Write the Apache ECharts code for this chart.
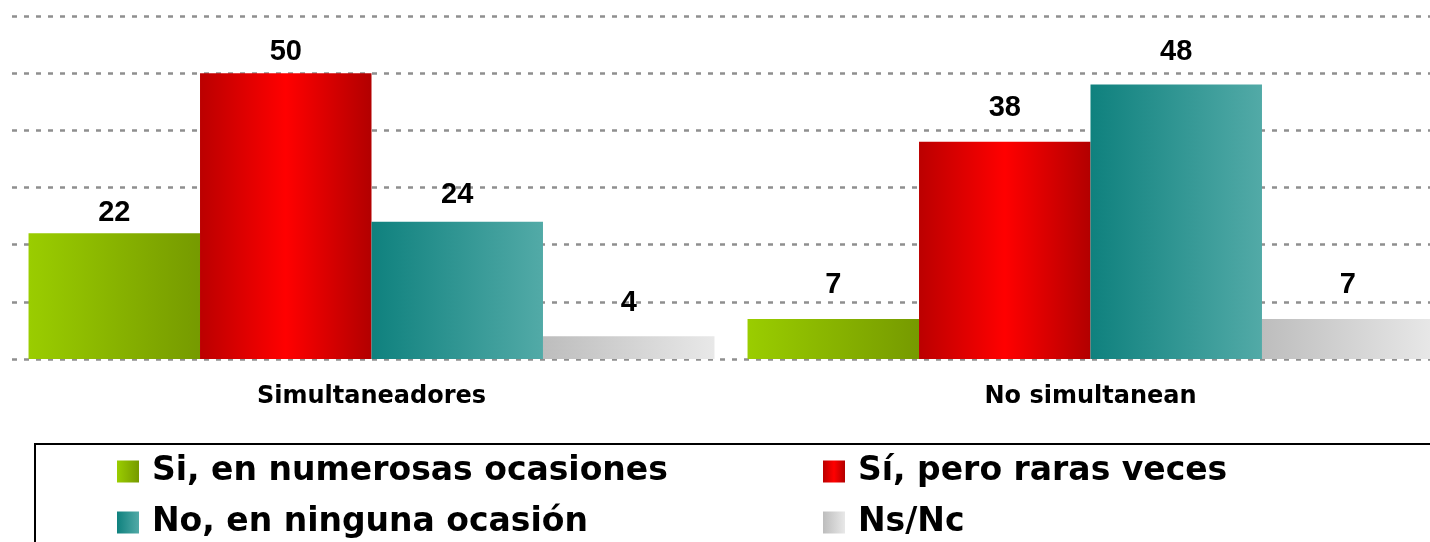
<!DOCTYPE html>
<html>
<head>
<meta charset="utf-8">
<script src="https://cdn.jsdelivr.net/npm/echarts@6/dist/echarts.min.js"></script>
<style>
html,body{margin:0;padding:0;background:#fff;}
#chart{width:1430px;height:542px;}
</style>
</head>
<body>
<div id="chart"></div>
<script>
const categories = ['Simultaneadores', 'No simultanean'];
const seriesNames = ['Si, en numerosas ocasiones', 'Sí, pero raras veces', 'No, en ninguna ocasión', 'Ns/Nc'];
const numerosas = [22, 7];
const raras = [50, 38];
const ninguna = [24, 48];
const nsnc = [4, 7];
const yTicks = [0, 10, 20, 30, 40, 50, 60];

function grad(stops) {
  return new echarts.graphic.LinearGradient(0, 0, 1, 0, stops.map((c) => ({offset: c[0], color: c[1]})));
}
const colors = [
  grad([[0, '#9acd00'], [1, '#769a00']]),
  grad([[0, '#bb0000'], [0.5, '#ff0000'], [1, '#b20000']]),
  grad([[0, '#0f817e'], [1, '#52aaa7']]),
  grad([[0, '#bdbdbd'], [1, '#e8e8e8']])
];
const values = [numerosas, raras, ninguna, nsnc];
// label gap above each bar (style only), per series / per category
const labelGaps = [[6, 19], [7, 19], [12, 18], [19, 19]];

const chart = echarts.init(document.getElementById('chart'));

const labelStyle = {
  show: true, position: 'top', distance: 7,
  color: '#000', fontFamily: 'Liberation Sans', fontWeight: 'bold', fontSize: 29
};

const legendText = {color: '#000', fontFamily: 'DejaVu Sans', fontWeight: 'bold', fontSize: 33, padding: [0, 0, 0, 8]};
function mkLegend(name, left, top) {
  return {
    data: [name], left: left, top: top, orient: 'vertical', padding: 0,
    icon: 'rect', itemWidth: 22, itemHeight: 22, selectedMode: false,
    textStyle: legendText
  };
}

chart.setOption({
  animation: false,
  grid: {left: 12, width: 1438, top: 16, height: 343, containLabel: false, outerBoundsMode: 'none'},
  xAxis: {
    type: 'category', data: categories,
    axisLine: {show: false}, axisTick: {show: false},
    axisLabel: {color: '#000', fontFamily: 'DejaVu Sans', fontWeight: 'bold', fontSize: 24, margin: 26}
  },
  yAxis: {
    type: 'value', min: yTicks[0], max: yTicks[yTicks.length - 1], interval: 10,
    axisLabel: {show: false}, axisLine: {show: false}, axisTick: {show: false},
    splitLine: {show: true, lineStyle: {color: '#8f8f8f', width: 2.5, type: [5, 7]}}
  },
  legend: [
    mkLegend(seriesNames[0], 117, 455),
    mkLegend(seriesNames[2], 117, 506),
    mkLegend(seriesNames[1], 823, 455),
    mkLegend(seriesNames[3], 823, 506)
  ],
  graphic: [{
    type: 'rect', shape: {x: 35, y: 444, width: 1500, height: 200},
    style: {fill: 'none', stroke: '#000', lineWidth: 2}, silent: true
  }],
  series: seriesNames.map((n, i) => ({
    name: n, type: 'bar',
    data: values[i].map((v, j) => ({value: v, label: {distance: labelGaps[i][j]}})),
    barGap: '0%', barCategoryGap: '4.6%',
    itemStyle: {color: colors[i]},
    label: labelStyle
  }))
});
</script>
</body>
</html>
